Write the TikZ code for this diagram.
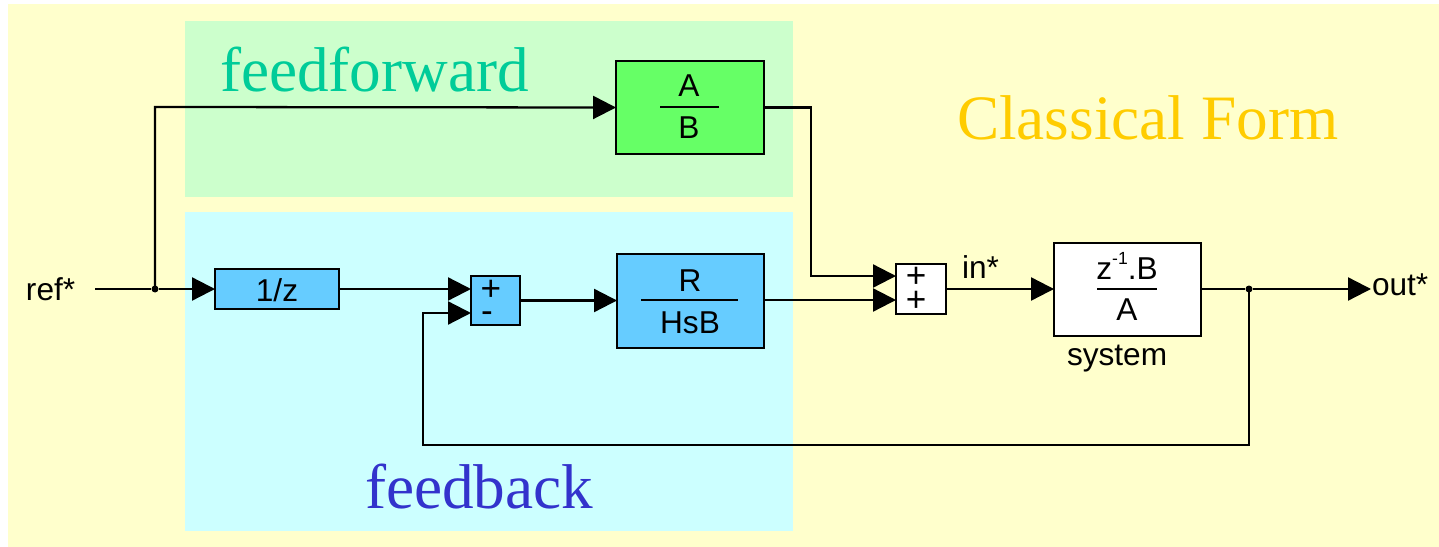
\documentclass[tikz,border=0pt]{standalone}
\usepackage{fontspec}
\setmainfont{Liberation Sans}
\newfontfamily\bigserif{Liberation Serif}
\usetikzlibrary{arrows.meta}
\definecolor{bgyellow}{HTML}{FFFFCC}
\definecolor{ffpanel}{HTML}{CCFFCC}
\definecolor{fbpanel}{HTML}{CCFFFF}
\definecolor{ffbox}{HTML}{66FF66}
\definecolor{fbbox}{HTML}{66CCFF}
\definecolor{fftext}{HTML}{00CC99}
\definecolor{fbtext}{HTML}{3333CC}
\definecolor{cftext}{HTML}{FFCC00}
\begin{document}
\begin{tikzpicture}[x=0.02cm,y=-0.02cm,
  blk/.style={draw=black,line width=1.3pt,inner sep=0pt,outer sep=0pt},
  lbl/.style={inner sep=0pt,outer sep=0pt,anchor=base west,font=\fontsize{18}{20}\selectfont},
  txt/.style={inner sep=0pt,outer sep=0pt,anchor=base,font=\fontsize{18}{20}\selectfont},
  sgn/.style={inner sep=0pt,outer sep=0pt,anchor=base,text height=0.55em,text depth=0pt,font=\fontsize{20}{22}\selectfont},
  big/.style={inner sep=0pt,outer sep=0pt,anchor=base west,font=\bigserif\fontsize{36}{40}\selectfont},
  wire/.style={line width=1.3pt},
  sig/.style={line width=1.3pt,-{Triangle[length=0.46cm,width=0.46cm]}},
  dot/.style={circle,fill=black,inner sep=0pt,minimum size=0.14cm}
]
\useasboundingbox (0,0) rectangle (1439,547);
\fill[bgyellow] (8,4) rectangle (1439,547);
\fill[ffpanel] (185,21) rectangle (793,197);
\fill[fbpanel] (185,212) rectangle (793,531);

\node[big,text=fftext] (fflabel) at (220,92) {feedforward};
\node[big,text=fbtext] (fblabel) at (365,508) {feedback};
\node[big,text=cftext] (cflabel) at (957,140) {Classical Form};

% blocks
\node[blk,fill=ffbox,minimum width=2.96cm,minimum height=1.86cm] (ab) at (690,107.5) {};
\node[blk,fill=fbbox,minimum width=2.48cm,minimum height=0.8cm] (invz) at (277,289) {};
\node[blk,fill=fbbox,minimum width=0.98cm,minimum height=0.98cm] (sumA) at (495.5,300.5) {};
\node[blk,fill=fbbox,minimum width=2.94cm,minimum height=1.88cm] (rh) at (690.5,301) {};
\node[blk,fill=white,minimum width=1.0cm,minimum height=1.0cm] (sumB) at (921,289) {};
\node[blk,fill=white,minimum width=2.94cm,minimum height=1.86cm] (sys) at (1127.5,289.5) {};

% block contents
\node[txt] (abA) at (689,97) {A};
\node[txt] (abB) at (689,139) {B};
\draw[wire] (660,107) -- (719,107);
\node[txt] (invzT) at (277,301) {1/z};
\node[sgn] (sumAp) at (491,300) {+};
\node[sgn] (sumAm) at (487,322) {-};
\node[txt] (rhR) at (690,291) {R};
\node[txt] (rhH) at (690,333) {HsB};
\draw[wire] (641,300) -- (738,300);
\node[sgn] (sumBp1) at (916,287) {+};
\node[sgn] (sumBp2) at (916,311) {+};
\node[txt] (sysN) at (1127,279) {z\raisebox{0.45em}{\fontsize{10}{11}\selectfont -1}.B};
\node[txt] (sysD) at (1127,320) {A};
\draw[wire] (1097,289) -- (1157,289);

% labels
\node[lbl] (ref) at (26,300) {ref*};
\node[lbl] (in) at (962,278) {in*};
\node[lbl] (out) at (1372,295) {out*};
\node[lbl] (syslbl) at (1067,365) {system};

% coordinates
\coordinate (refs) at (95,289);
\node[dot] (j1) at (155,289) {};
\node[dot] (j2) at (1249,289) {};
\coordinate (outend) at (1371,289);
\coordinate (sumAin1) at (471,289);
\coordinate (sumAin2) at (471,313);
\coordinate (sumBin1) at (896,276);
\coordinate (sumBin2) at (896,300);

% connectors
\draw[wire] (refs) -- (j1);
\draw[sig] (j1) -- (invz.west);
\draw[sig] (j1.center) -- (155,107) -- (ab.west);
\draw[sig] (invz.east) -- (sumAin1);
\draw[sig] (sumA.east) -- (rh.west |- sumA.east);
\draw[sig] (rh.east |- 0,300) -- (sumBin2);
\draw[sig] (ab.east) -- (811,107.5) -- (811,276) -- (sumBin1);
\draw[sig] (sumB.east) -- (sys.west |- sumB.east);
\draw[wire] (sys.east |- j2) -- (j2);
\draw[sig] (j2) -- (outend);
\draw[sig] (j2.center) -- (1249,445) -- (423,445) -- (423,313) -- (sumAin2);
\end{tikzpicture}
\end{document}
